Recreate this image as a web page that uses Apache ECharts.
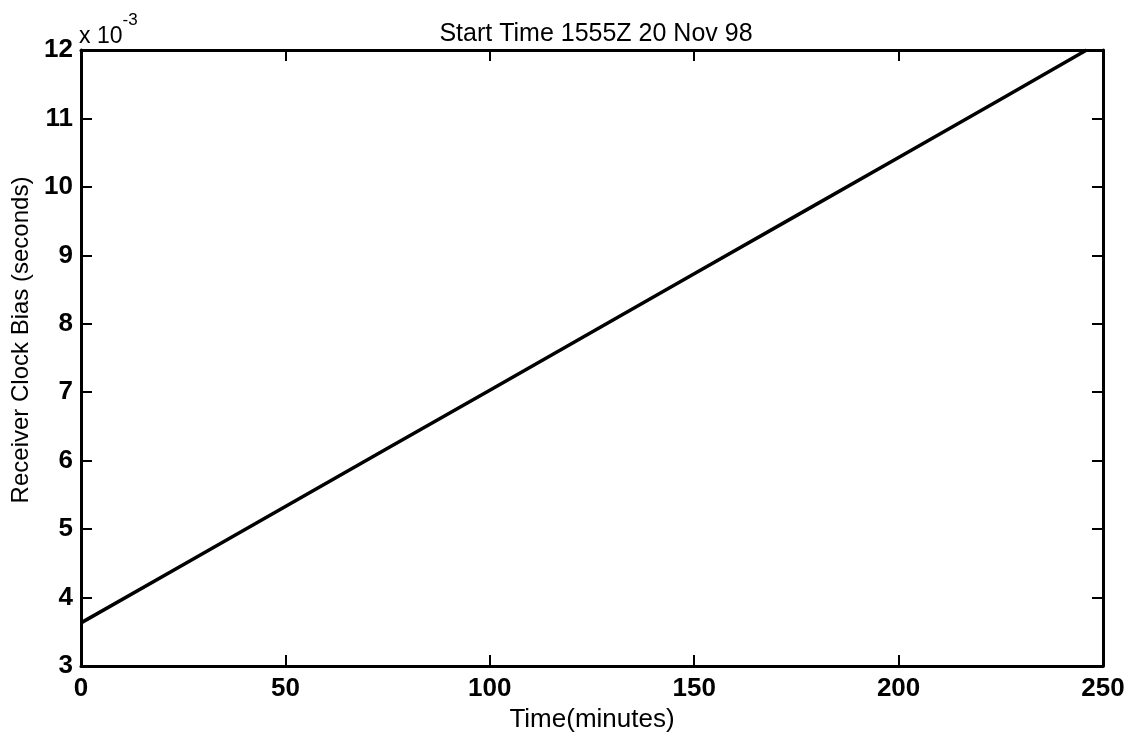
<!DOCTYPE html>
<html>
<head>
<meta charset="utf-8">
<script src="https://cdn.jsdelivr.net/npm/echarts@6/dist/echarts.min.js"></script>
<style>html,body{margin:0;padding:0;background:#fff}#c{width:1134px;height:740px}</style>
</head>
<body>
<div id="c"></div>
<script>
// Time in minutes, clock bias in seconds
var timeMinutes = [0, 25, 50, 75, 100, 125, 150, 175, 200, 225, 246];
var clockBias = [0.00363, 0.00448, 0.00533, 0.00618, 0.00703, 0.00788, 0.00873, 0.00958, 0.01043, 0.01128, 0.01200];
var xTicks = [0, 50, 100, 150, 200, 250];
var yTicks = [3, 4, 5, 6, 7, 8, 9, 10, 11, 12];
var titleText = 'Start Time 1555Z 20 Nov 98';
var xName = 'Time(minutes)';
var yName = 'Receiver Clock Bias (seconds)';

var font = 'Liberation Sans, Arial, Helvetica, sans-serif';
var chart = echarts.init(document.getElementById('c'));
var pts = timeMinutes.map(function (t, i) { return [t, clockBias[i] * 1000]; });

var tickStyle = {show: true, inside: true, length: 11, lineStyle: {color: '#000', width: 2}};
var labelStyle = {fontFamily: font, fontSize: 26, color: '#000', fontWeight: 'bold'};
chart.setOption({
  animation: false,
  title: {text: titleText, left: 591, top: 17, textAlign: 'center',
    textStyle: {fontFamily: font, fontSize: 25, fontWeight: 'normal', color: '#000'}},
  grid: {left: 81, right: 31, top: 50, bottom: 74, show: false},
  xAxis: [{
    type: 'value', min: xTicks[0], max: xTicks[xTicks.length - 1], interval: 50,
    name: xName, nameLocation: 'middle', nameGap: 40,
    nameTextStyle: {fontFamily: font, fontSize: 26, color: '#000'},
    axisLine: {show: true, onZero: false, lineStyle: {color: '#000', width: 3}},
    axisTick: tickStyle, splitLine: {show: false},
    axisLabel: Object.assign({margin: 10}, labelStyle)
  }, {
    type: 'value', position: 'top', min: xTicks[0], max: xTicks[xTicks.length - 1], interval: 50,
    axisLine: {show: true, onZero: false, lineStyle: {color: '#000', width: 3}},
    axisTick: tickStyle, splitLine: {show: false}, axisLabel: {show: false}
  }],
  yAxis: [{
    type: 'value', min: yTicks[0], max: yTicks[yTicks.length - 1], interval: 1,
    name: yName, nameLocation: 'middle', nameGap: 46, nameRotate: 90,
    nameTextStyle: {fontFamily: font, fontSize: 24, color: '#000', padding: [0, 0, 0, 36]},
    axisLine: {show: true, onZero: false, lineStyle: {color: '#000', width: 3}},
    axisTick: tickStyle, splitLine: {show: false},
    axisLabel: Object.assign({margin: 8}, labelStyle)
  }, {
    type: 'value', position: 'right', min: yTicks[0], max: yTicks[yTicks.length - 1], interval: 1,
    axisLine: {show: true, onZero: false, lineStyle: {color: '#000', width: 3}},
    axisTick: tickStyle, splitLine: {show: false}, axisLabel: {show: false}
  }],
  graphic: [{
    type: 'text', left: 79, top: 12,
    style: {
      text: '{b|x 10}{s|-3}',
      rich: {
        b: {fontFamily: font, fontSize: 23, color: '#000', verticalAlign: 'bottom', lineHeight: 36},
        s: {fontFamily: font, fontSize: 17, color: '#000', verticalAlign: 'top', lineHeight: 18}
      }
    }
  }],
  series: [{
    type: 'line', data: pts, showSymbol: false, xAxisIndex: 0, yAxisIndex: 0,
    lineStyle: {color: '#000', width: 3.5}
  }]
});
</script>
</body>
</html>
